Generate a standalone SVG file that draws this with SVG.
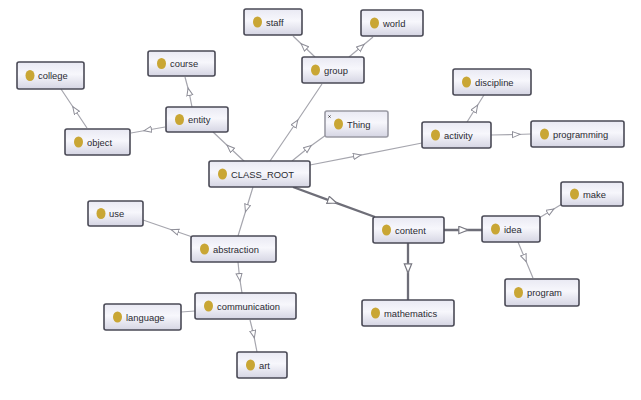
<svg xmlns="http://www.w3.org/2000/svg" width="641" height="400" viewBox="0 0 641 400">
<defs>
<linearGradient id="nf" x1="0" y1="0" x2="0" y2="1">
<stop offset="0" stop-color="#e9e9f3"/>
<stop offset="0.45" stop-color="#f7f7fc"/>
<stop offset="1" stop-color="#d5d5e3"/>
</linearGradient>
<marker id="a" markerUnits="userSpaceOnUse" markerWidth="12" markerHeight="10" refX="4" refY="3.5" orient="auto">
<path d="M0.5,0.5 L8,3.5 L0.5,6.5 Z" fill="#ffffff" stroke="#8e8e98" stroke-width="1"/>
</marker>
<marker id="b" markerUnits="userSpaceOnUse" markerWidth="14" markerHeight="12" refX="5" refY="4.5" orient="auto">
<path d="M0.8,0.8 L10,4.5 L0.8,8.2 Z" fill="#ffffff" stroke="#777780" stroke-width="1.2"/>
</marker>
</defs>
<style>
.e{fill:none;stroke:#a6a6ae;stroke-width:1.2;marker-mid:url(#a)}
.t{fill:none;stroke:#6e6e78;stroke-width:2.3;marker-mid:url(#b)}
.n rect{fill:url(#nf);stroke:#4a4a56;stroke-width:1.6}
.n ellipse{fill:#c9a634}
.n text{font-family:"Liberation Sans",Arial,sans-serif;font-size:9.4px;fill:#2a2a32}
#n_thing rect{stroke:#9a9aa4}
</style>
<rect x="0" y="0" width="641" height="400" fill="#ffffff"/>
<g id="connectors">
<path class="e" d="M87,128 L75,110 L61,89"/>
<path class="e" d="M165,127 L148,130 L131,133"/>
<path class="e" d="M192,107 L189,92 L185,77"/>
<path class="e" d="M245,162 L230,148 L213,132"/>
<path class="e" d="M315,57 L304,46.5 L293,36"/>
<path class="e" d="M349,57 L361,47 L373,37"/>
<path class="e" d="M270,161 L295.5,123.5 L322,84"/>
<path class="e" d="M292,161 L308,148 L326,135"/>
<path class="e" d="M310,165 L357,155.8 L422,143"/>
<path class="e" d="M467,122 L475.5,108.5 L484,95"/>
<path class="e" d="M491,135 L516,134.5 L531,134"/>
<path class="t" d="M293,187 L332,201.3 L375,217"/>
<path class="t" d="M444,230 L463,230 L482,230"/>
<path class="t" d="M408,243 L408,268 L408,300"/>
<path class="e" d="M539,218 L550.5,211 L562,204"/>
<path class="e" d="M518,242 L524.7,258 L533,278"/>
<path class="e" d="M253,187 L246.6,208 L238,236"/>
<path class="e" d="M191,236.5 L175,231 L143,220"/>
<path class="e" d="M238,262 L239.5,277 L242,293"/>
<path fill="none" stroke="#a6a6ae" stroke-width="1.2" d="M195,311 L181,312"/>
<path class="e" d="M250,320 L253.5,334 L257,352"/>
</g>
<g id="n_college" class="n"><rect x="17" y="62" width="67" height="27" rx="2"/><ellipse cx="30" cy="75.5" rx="4.5" ry="5.5"/><text x="38" y="79">college</text></g>
<g id="n_object" class="n"><rect x="65" y="129" width="65" height="26" rx="2"/><ellipse cx="78.5" cy="142" rx="4.5" ry="5.5"/><text x="87" y="145.5">object</text></g>
<g id="n_course" class="n"><rect x="148" y="51" width="67" height="25" rx="2"/><ellipse cx="161.5" cy="63.5" rx="4.5" ry="5.5"/><text x="170" y="67">course</text></g>
<g id="n_entity" class="n"><rect x="166" y="107" width="62" height="25" rx="2"/><ellipse cx="179.5" cy="119.5" rx="4.5" ry="5.5"/><text x="188" y="123">entity</text></g>
<g id="n_staff" class="n"><rect x="244" y="9" width="58" height="26" rx="2"/><ellipse cx="257.5" cy="22" rx="4.5" ry="5.5"/><text x="266" y="25.5">staff</text></g>
<g id="n_world" class="n"><rect x="361" y="10" width="62" height="26" rx="2"/><ellipse cx="374.5" cy="23" rx="4.5" ry="5.5"/><text x="383" y="26.5">world</text></g>
<g id="n_group" class="n"><rect x="302" y="57" width="62" height="26" rx="2"/><ellipse cx="315.5" cy="70" rx="4.5" ry="5.5"/><text x="324" y="73.5">group</text></g>
<g id="n_thing" class="n"><rect x="325" y="111" width="63" height="26" rx="2"/><path d="M328.5,115.5 L330.5,117.5 M330.5,115.5 L328.5,117.5" stroke="#333" stroke-width="0.9"/><ellipse cx="338.5" cy="124" rx="4.5" ry="5.5"/><text x="347" y="127.5">Thing</text></g>
<g id="n_class_root" class="n"><rect x="209" y="161" width="101" height="26" rx="2"/><ellipse cx="222.5" cy="174" rx="4.5" ry="5.5"/><text x="231" y="177.5">CLASS_ROOT</text></g>
<g id="n_discipline" class="n"><rect x="453" y="69" width="78" height="26" rx="2"/><ellipse cx="466.5" cy="82" rx="4.5" ry="5.5"/><text x="475" y="85.5">discipline</text></g>
<g id="n_activity" class="n"><rect x="422" y="122" width="69" height="26" rx="2"/><ellipse cx="435.5" cy="135" rx="4.5" ry="5.5"/><text x="444" y="138.5">activity</text></g>
<g id="n_programming" class="n"><rect x="531" y="121" width="93" height="26" rx="2"/><ellipse cx="544.5" cy="134" rx="4.5" ry="5.5"/><text x="553" y="137.5">programming</text></g>
<g id="n_make" class="n"><rect x="561" y="182" width="62" height="24" rx="2"/><ellipse cx="574.5" cy="194" rx="4.5" ry="5.5"/><text x="583" y="197.5">make</text></g>
<g id="n_content" class="n"><rect x="373" y="217" width="71" height="26" rx="2"/><ellipse cx="386.5" cy="230" rx="4.5" ry="5.5"/><text x="395" y="233.5">content</text></g>
<g id="n_idea" class="n"><rect x="482" y="216" width="58" height="26" rx="2"/><ellipse cx="495.5" cy="229" rx="4.5" ry="5.5"/><text x="504" y="232.5">idea</text></g>
<g id="n_program" class="n"><rect x="505" y="279" width="74" height="27" rx="2"/><ellipse cx="518.5" cy="292.5" rx="4.5" ry="5.5"/><text x="527" y="296">program</text></g>
<g id="n_mathematics" class="n"><rect x="362" y="300" width="92" height="26" rx="2"/><ellipse cx="375.5" cy="313" rx="4.5" ry="5.5"/><text x="384" y="316.5">mathematics</text></g>
<g id="n_use" class="n"><rect x="88" y="201" width="55" height="25" rx="2"/><ellipse cx="101" cy="213.5" rx="4.5" ry="5.5"/><text x="109" y="217">use</text></g>
<g id="n_abstraction" class="n"><rect x="191" y="236" width="85" height="26" rx="2"/><ellipse cx="204.5" cy="249" rx="4.5" ry="5.5"/><text x="213" y="252.5">abstraction</text></g>
<g id="n_communication" class="n"><rect x="195" y="293" width="101" height="26" rx="2"/><ellipse cx="208.5" cy="306" rx="4.5" ry="5.5"/><text x="217" y="309.5">communication</text></g>
<g id="n_language" class="n"><rect x="104" y="304" width="77" height="26" rx="2"/><ellipse cx="117.5" cy="317" rx="4.5" ry="5.5"/><text x="126" y="320.5">language</text></g>
<g id="n_art" class="n"><rect x="237" y="352" width="50" height="26" rx="2"/><ellipse cx="250.5" cy="365" rx="4.5" ry="5.5"/><text x="259" y="368.5">art</text></g>
</svg>
